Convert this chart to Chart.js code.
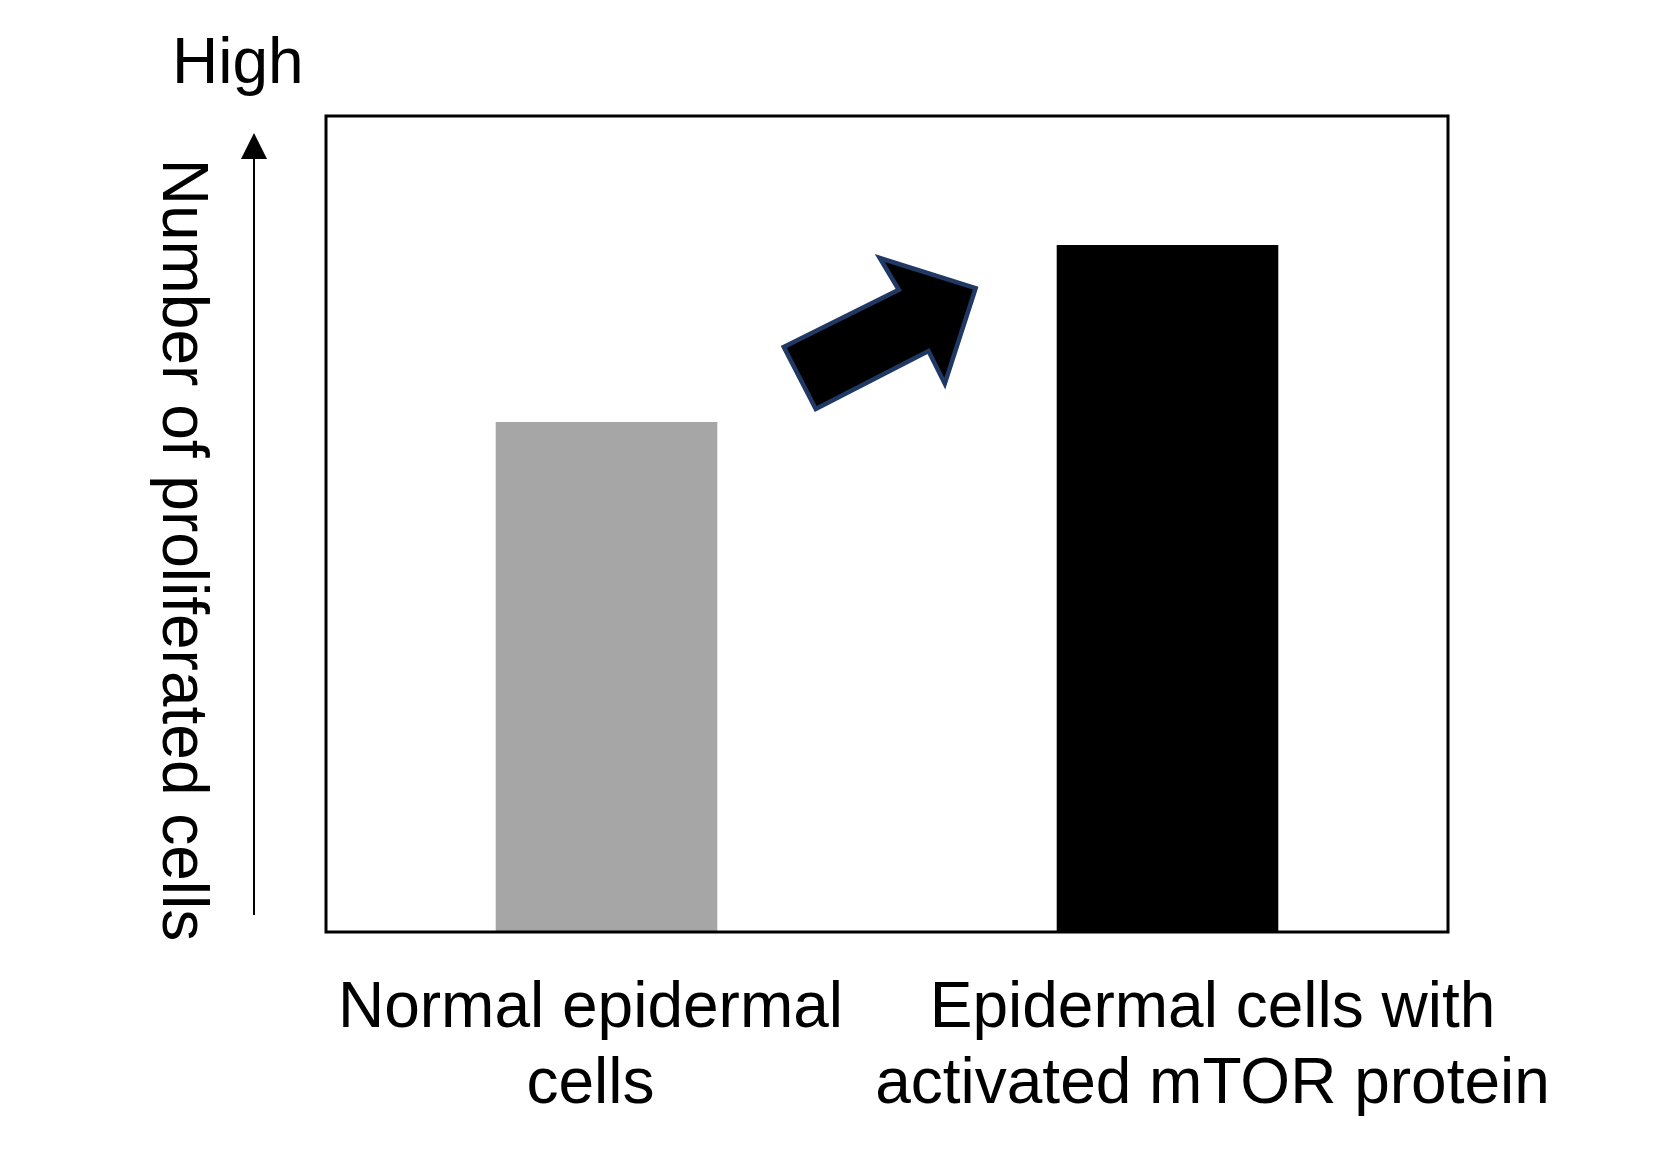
<!DOCTYPE html>
<html lang="en">
<head>
  <meta charset="UTF-8">
  <title>Number of proliferated cells</title>
  <style>
    html,
    body {
      margin: 0;
      padding: 0;
      background: #ffffff;
      overflow: hidden;
    }

    #wrap {
      width: 1653px;
      height: 1158px;
      position: relative;
    }
  </style>
</head>

<body>
  <div id="wrap">
    <canvas id="cellChart"></canvas>
  </div>

  <script src="https://cdn.jsdelivr.net/npm/chart.js"></script>
  <script>
    // data (y runs 0..100, no ticks shown)
    const categories = ["Normal epidermal cells", "Epidermal cells with activated mTOR protein"];
    const labelLines = [
      ["Normal epidermal", "cells"],
      ["Epidermal cells with", "activated mTOR protein"]
    ];
    const cellValues = [62.5, 84.2];
    const barColors = ["#a6a6a6", "#000000"];
    const yTitle = "Number of proliferated cells";
    const yTopText = "High";

    // fat arrow between the bars, in (category index, value) units
    const bigArrowX = [0.316, 0.373, 0.574, 0.603, 0.658, 0.487, 0.521];
    const bigArrowY = [71.7, 64.1, 71.2, 67.2, 78.9, 82.6, 78.7];

    const FONT = "64px 'Liberation Sans', Arial, sans-serif";

    // frame, labels and arrows drawn around the plot
    const decorPlugin = {
      id: "decor",
      afterDatasetsDraw(chart) {
        const ctx = chart.ctx;
        const area = chart.chartArea;
        const xs = chart.scales.x;
        const ys = chart.scales.y;
        ctx.save();

        // plot frame
        ctx.strokeStyle = "#000";
        ctx.lineWidth = 3;
        ctx.strokeRect(area.left, area.top, area.right - area.left, area.bottom - area.top);

        // upward arrow on the left
        const ax = area.left - 72;
        const aBottom = area.bottom - 17;
        const aTip = area.top + 17;
        ctx.lineWidth = 2;
        ctx.beginPath();
        ctx.moveTo(ax, aBottom);
        ctx.lineTo(ax, aTip + 24);
        ctx.stroke();
        ctx.fillStyle = "#000";
        ctx.beginPath();
        ctx.moveTo(ax, aTip);
        ctx.lineTo(ax - 13, aTip + 26);
        ctx.lineTo(ax + 13, aTip + 26);
        ctx.closePath();
        ctx.fill();

        // texts
        ctx.font = FONT;
        ctx.fillStyle = "#000";
        ctx.textBaseline = "alphabetic";
        ctx.textAlign = "left";
        ctx.fillText(yTopText, 172, 83);

        ctx.save();
        ctx.translate(163, 550);
        ctx.rotate(Math.PI / 2);
        ctx.textAlign = "center";
        ctx.fillText(yTitle, 0, 0);
        ctx.restore();

        // category labels (sit a bit off the bar centres in the original)
        const labelShift = [-16, 45];
        ctx.textAlign = "center";
        labelLines.forEach((lines, i) => {
          const cx = xs.getPixelForValue(i) + labelShift[i];
          lines.forEach((t, j) => {
            ctx.fillText(t, cx, area.bottom + 95 + j * 76);
          });
        });

        // fat arrow
        ctx.beginPath();
        bigArrowX.forEach((v, i) => {
          const px = xs.getPixelForValue(v);
          const py = ys.getPixelForValue(bigArrowY[i]);
          if (i === 0) ctx.moveTo(px, py);
          else ctx.lineTo(px, py);
        });
        ctx.closePath();
        ctx.fillStyle = "#000";
        ctx.fill();
        ctx.lineWidth = 4.5;
        ctx.lineJoin = "miter";
        ctx.strokeStyle = "#1f3864";
        ctx.stroke();

        ctx.restore();
      }
    };

    const ctx = document.getElementById("cellChart").getContext("2d");
    const chart = new Chart(ctx, {
      type: "bar",
      data: {
        labels: categories,
        datasets: [{
          data: cellValues,
          backgroundColor: barColors,
          borderWidth: 0,
          barPercentage: 0.395,
          categoryPercentage: 1
        }]
      },
      options: {
        responsive: true,
        maintainAspectRatio: false,
        devicePixelRatio: 1,
        animation: false,
        layout: {
          padding: { left: 326, right: 205, top: 116, bottom: 226 }
        },
        plugins: {
          legend: { display: false },
          tooltip: { enabled: false }
        },
        scales: {
          x: { display: false, offset: true },
          y: { display: false, min: 0, max: 100 }
        }
      },
      plugins: [decorPlugin]
    });
  </script>
</body>

</html>
